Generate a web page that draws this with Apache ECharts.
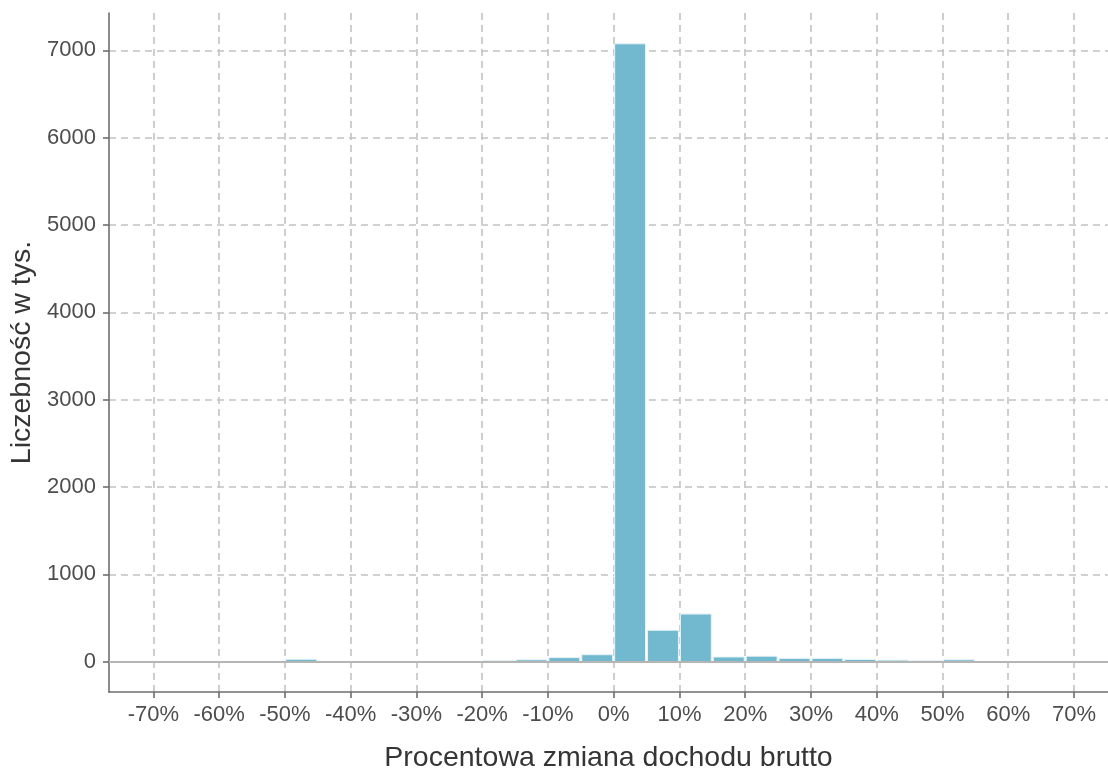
<!DOCTYPE html>
<html>
<head>
<meta charset="utf-8">
<script src="https://cdn.jsdelivr.net/npm/echarts@6/dist/echarts.min.js"></script>
<style>
html,body{margin:0;padding:0;background:#fff;}
#chart{width:1108px;height:769px;}
</style>
</head>
<body>
<div id="chart"></div>
<script>
// Histogram bins (start of each 5% bin) and counts in thousands
const binStarts = [-50, -20, -15, -10, -5, 0, 5, 10, 15, 20, 25, 30, 35, 40, 45, 50];
const binWidth = 5;
const counts = [28, 12, 22, 47, 80, 7075, 360, 546, 54, 63, 38, 38, 26, 18, 14, 22];
const xTicks = [-70, -60, -50, -40, -30, -20, -10, 0, 10, 20, 30, 40, 50, 60, 70];
const yTicks = [0, 1000, 2000, 3000, 4000, 5000, 6000, 7000];

const data = binStarts.map((s, i) => [s, s + binWidth, counts[i]]);

const chart = echarts.init(document.getElementById('chart'), null, {renderer: 'canvas'});
const FONT = '"Liberation Sans", Arial, sans-serif';
const gridDash = {color: '#c2c2c2', width: 1.6, type: [7, 5]};
const axisCol = '#6e6e6e';

chart.setOption({
  animation: false,
  backgroundColor: '#ffffff',
  grid: {left: 109, right: 0, top: 13, bottom: 77, containLabel: false, outerBoundsMode: 'none'},
  xAxis: {
    type: 'value',
    min: -76.74, max: 75.17,
    name: 'Procentowa zmiana dochodu brutto',
    nameLocation: 'middle',
    nameGap: 52,
    nameTextStyle: {fontFamily: FONT, fontSize: 28.5, color: '#353535', verticalAlign: 'top'},
    axisLine: {show: true, onZero: false, lineStyle: {color: axisCol, width: 1.6}},
    axisTick: {show: true, length: 6, customValues: xTicks, lineStyle: {color: axisCol, width: 1.6}},
    axisLabel: {customValues: xTicks, margin: 12, fontFamily: FONT, fontSize: 22, color: '#4d4d4d',
      formatter: v => v + '%'},
    splitLine: {show: true, customValues: xTicks, lineStyle: gridDash}
  },
  yAxis: {
    type: 'value',
    min: -347, max: 7428,
    name: 'Liczebność w tys.',
    nameLocation: 'middle',
    nameGap: 67,
    nameTextStyle: {fontFamily: FONT, fontSize: 28.5, color: '#353535'},
    axisLine: {show: true, onZero: false, lineStyle: {color: axisCol, width: 1.6}},
    axisTick: {show: true, length: 6, customValues: yTicks, lineStyle: {color: axisCol, width: 1.6}},
    axisLabel: {customValues: yTicks, margin: 13, fontFamily: FONT, fontSize: 22, color: '#4d4d4d',
      formatter: v => String(v)},
    splitLine: {show: true, customValues: yTicks, lineStyle: gridDash}
  },
  series: [{
    type: 'custom',
    data: data,
    encode: {x: [0, 1], y: 2},
    clip: true,
    renderItem: function (params, api) {
      const p0 = api.coord([api.value(0), 0]);
      const p1 = api.coord([api.value(1), api.value(2)]);
      return {
        type: 'rect',
        shape: {x: p0[0] + 1, y: p1[1], width: p1[0] - p0[0] - 2, height: p0[1] - p1[1]},
        style: {fill: '#72b9cf', stroke: '#e6f3f7', lineWidth: 1}
      };
    },
    markLine: {
      silent: true,
      symbol: 'none',
      label: {show: false},
      lineStyle: {color: '#b5b5b5', width: 2.2, type: 'solid'},
      data: [{yAxis: 0}]
    }
  }]
});
</script>
</body>
</html>
